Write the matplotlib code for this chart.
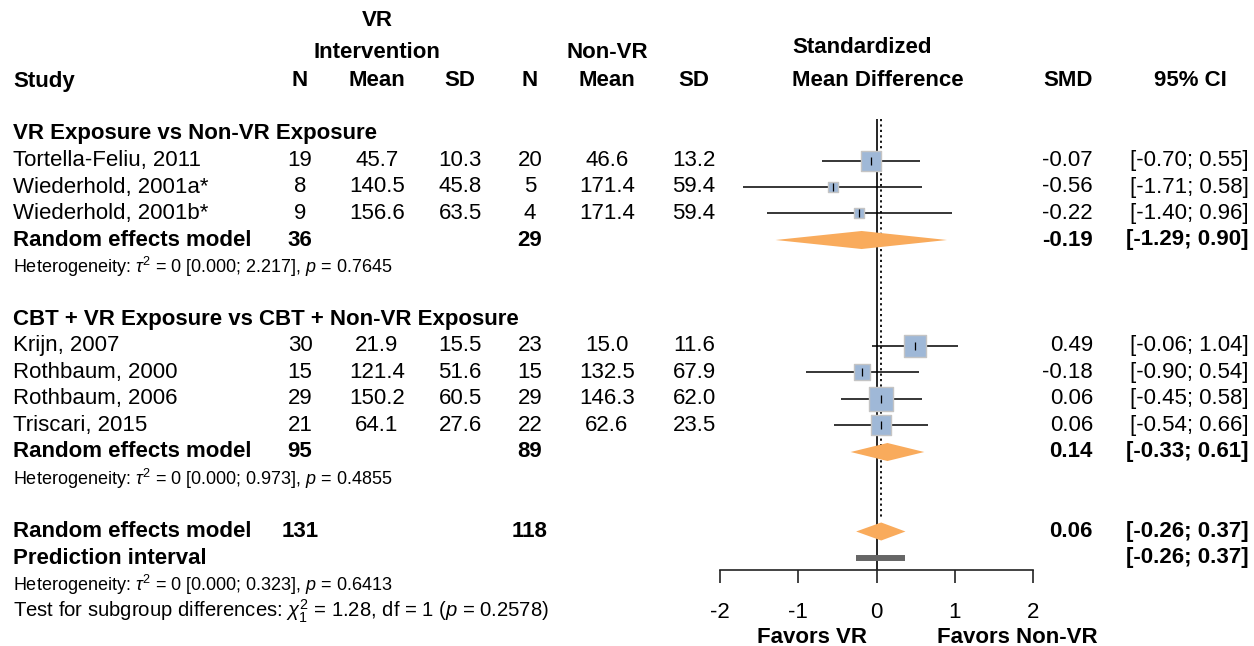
import numpy as np
import matplotlib
matplotlib.use("Agg")
import matplotlib.pyplot as plt
from matplotlib import transforms
from matplotlib.patches import Polygon

plt.rcParams['font.family'] = 'Liberation Sans'
plt.rcParams['mathtext.fontset'] = 'custom'
plt.rcParams['mathtext.rm'] = 'Liberation Sans'
plt.rcParams['mathtext.it'] = 'Liberation Sans:italic'
plt.rcParams['mathtext.bf'] = 'Liberation Sans:bold'

# ---- data ----
studies = ["Tortella-Feliu, 2011", "Wiederhold, 2001a*", "Wiederhold, 2001b*",
           "Krijn, 2007", "Rothbaum, 2000", "Rothbaum, 2006", "Triscari, 2015"]
group = [0, 0, 0, 1, 1, 1, 1]
n_vr = [19, 8, 9, 30, 15, 29, 21]
mean_vr = [45.7, 140.5, 156.6, 21.9, 121.4, 150.2, 64.1]
sd_vr = [10.3, 45.8, 63.5, 15.5, 51.6, 60.5, 27.6]
n_ctl = [20, 5, 4, 23, 15, 29, 22]
mean_ctl = [46.6, 171.4, 171.4, 15.0, 132.5, 146.3, 62.6]
sd_ctl = [13.2, 59.4, 59.4, 11.6, 67.9, 62.0, 23.5]
smd = [-0.07, -0.56, -0.22, 0.49, -0.18, 0.06, 0.06]
ci_lo = [-0.70, -1.71, -1.40, -0.06, -0.90, -0.45, -0.54]
ci_hi = [0.55, 0.58, 0.96, 1.04, 0.54, 0.58, 0.66]
weights = [16.1, 4.8, 4.5, 20.9, 12.2, 23.8, 17.6]

sub_labels = ["VR Exposure vs Non-VR Exposure",
              "CBT + VR Exposure vs CBT + Non-VR Exposure"]
sub_n_vr = [36, 95]
sub_n_ctl = [29, 89]
sub_smd = [-0.19, 0.14]
sub_lo = [-1.29, -0.33]
sub_hi = [0.90, 0.61]
sub_tau_ci = [(0.000, 2.217), (0.000, 0.973)]
sub_p = ["0.7645", "0.4855"]

all_n_vr, all_n_ctl = 131, 118
all_smd, all_lo, all_hi = 0.06, -0.26, 0.37
pi_lo, pi_hi = -0.26, 0.37
all_tau_ci = (0.000, 0.323)
all_p = "0.6413"
test_chi, test_df, test_p = 1.28, 1, "0.2578"

xticks = [-2, -1, 0, 1, 2]

# ---- layout ----
W, H = 1254, 646
fig = plt.figure(figsize=(W / 100, H / 100), dpi=100)
row0, rowh = 81, 26.5          # pixel y of header row, row height
axis_px = 570
ax = fig.add_axes([720 / W, (H - axis_px) / H, 313 / W, axis_px / H])
ax.set_xlim(-2, 2)
ax.set_ylim((axis_px - row0) / rowh, -row0 / rowh)
tr = transforms.blended_transform_factory(fig.transFigure, ax.transData)

FS = 16
FS_HET = 13.0
FS_TEST = 14.6


def txt(xpx, row, s, ha='left', bold=False, size=FS):
    ax.text(xpx / W, row, s, transform=tr, ha=ha, va='center',
            fontsize=size, fontweight='bold' if bold else 'normal',
            clip_on=False)


# column centres (pixels)
cN1, cM1, cS1, cN2, cM2, cS2 = 300, 377, 460, 530, 607, 694
rSMD, cCI = 1093, 1249

# headers
txt(13, 0, "Study", bold=True)
txt(377, -2.3, "VR", ha='center', bold=True)
txt(377, -1.08, "Intervention", ha='center', bold=True)
txt(607, -1.08, "Non-VR", ha='center', bold=True)
for c, lab in zip([cN1, cM1, cS1, cN2, cM2, cS2], ["N", "Mean", "SD", "N", "Mean", "SD"]):
    txt(c, 0, lab, ha='center', bold=True)
txt(792, -1.25, "Standardized", bold=True)
txt(792, 0, "Mean Difference", bold=True)
txt(rSMD, 0, "SMD", ha='right', bold=True)
txt(1190, 0, "95% CI", ha='center', bold=True)

sq_col = '#9FB8D7'
dia_col = '#F9AB5C'


def diamond(row, est, lo, hi):
    ax.add_patch(Polygon([(lo, row), (est, row - 0.34), (hi, row), (est, row + 0.34)],
                         closed=True, facecolor=dia_col, edgecolor='none',
                         zorder=3, clip_on=False))


def het_text(row, tau, p):
    txt(13, row, r"Heterogeneity: $\tau^2$ = 0 [%.3f; %.3f], $p$ = %s" % (tau[0], tau[1], p),
        size=FS_HET)


row = 2
for g in range(2):
    txt(13, row, sub_labels[g], bold=True)
    row += 1
    for i in [k for k in range(len(studies)) if group[k] == g]:
        txt(13, row, studies[i])
        txt(cN1, row, "%d" % n_vr[i], ha='center')
        txt(cM1, row, "%.1f" % mean_vr[i], ha='center')
        txt(cS1, row, "%.1f" % sd_vr[i], ha='center')
        txt(cN2, row, "%d" % n_ctl[i], ha='center')
        txt(cM2, row, "%.1f" % mean_ctl[i], ha='center')
        txt(cS2, row, "%.1f" % sd_ctl[i], ha='center')
        txt(rSMD, row, "%.2f" % smd[i], ha='right')
        txt(cCI, row, "[%.2f; %.2f]" % (ci_lo[i], ci_hi[i]), ha='right')
        ax.hlines(row, ci_lo[i], ci_hi[i], color='black', lw=1.1, zorder=2)
        side_pt = 4.8 * np.sqrt(weights[i]) * 0.72
        ax.scatter([smd[i]], [row], s=side_pt ** 2, marker='s', color=sq_col,
                   edgecolor='#C4C4C4', linewidth=1.0, zorder=3, clip_on=False)
        ax.plot([smd[i]], [row], marker='|', color='black', ms=5.5, mew=0.9, zorder=4)
        row += 1
    txt(13, row, "Random effects model", bold=True)
    txt(cN1, row, "%d" % sub_n_vr[g], ha='center', bold=True)
    txt(cN2, row, "%d" % sub_n_ctl[g], ha='center', bold=True)
    txt(rSMD, row, "%.2f" % sub_smd[g], ha='right', bold=True)
    txt(cCI, row, "[%.2f; %.2f]" % (sub_lo[g], sub_hi[g]), ha='right', bold=True)
    diamond(row, sub_smd[g], sub_lo[g], sub_hi[g])
    row += 1
    het_text(row, sub_tau_ci[g], sub_p[g])
    row += 2

# overall
txt(13, row, "Random effects model", bold=True)
txt(cN1, row, "%d" % all_n_vr, ha='center', bold=True)
txt(cN2, row, "%d" % all_n_ctl, ha='center', bold=True)
txt(rSMD, row, "%.2f" % all_smd, ha='right', bold=True)
txt(cCI, row, "[%.2f; %.2f]" % (all_lo, all_hi), ha='right', bold=True)
diamond(row, all_smd, all_lo, all_hi)
overall_row = row
row += 1
txt(13, row, "Prediction interval", bold=True)
txt(cCI, row, "[%.2f; %.2f]" % (pi_lo, pi_hi), ha='right', bold=True)
ax.hlines(row, pi_lo, pi_hi, color='#666666', lw=4.3, zorder=3, capstyle='butt')
row += 1
het_text(row, all_tau_ci, all_p)
row += 1
txt(13, row, r"Test for subgroup differences: $\chi^2_%d$ = %.2f, df = %d ($p$ = %s)"
    % (test_df, test_chi, test_df, test_p), size=FS_TEST)

# reference lines
ax.vlines(0, 1.43, ax.get_ylim()[0], color='black', lw=1.2, zorder=1)
ax.vlines(all_smd, 1.43, overall_row - 0.55, color='black', lw=1.3,
          linestyles=(0, (1.2, 1.8)), zorder=1)

# axis styling
for s in ['top', 'left', 'right']:
    ax.spines[s].set_visible(False)
ax.spines['bottom'].set_linewidth(1.2)
ax.spines['bottom'].set_color('#222222')
ax.patch.set_alpha(0)
ax.set_yticks([])
ax.set_xticks(xticks)
ax.set_xticklabels(["%d" % t for t in xticks])
ax.tick_params(axis='x', direction='out', length=9.4, width=1.2, color='#222222',
               labelsize=FS, pad=14)

txt(812, 21, "Favors VR", ha='center', bold=True, size=16)
txt(1017, 21, "Favors Non-VR", ha='center', bold=True, size=16)

fig.savefig('out.png', dpi=100)
